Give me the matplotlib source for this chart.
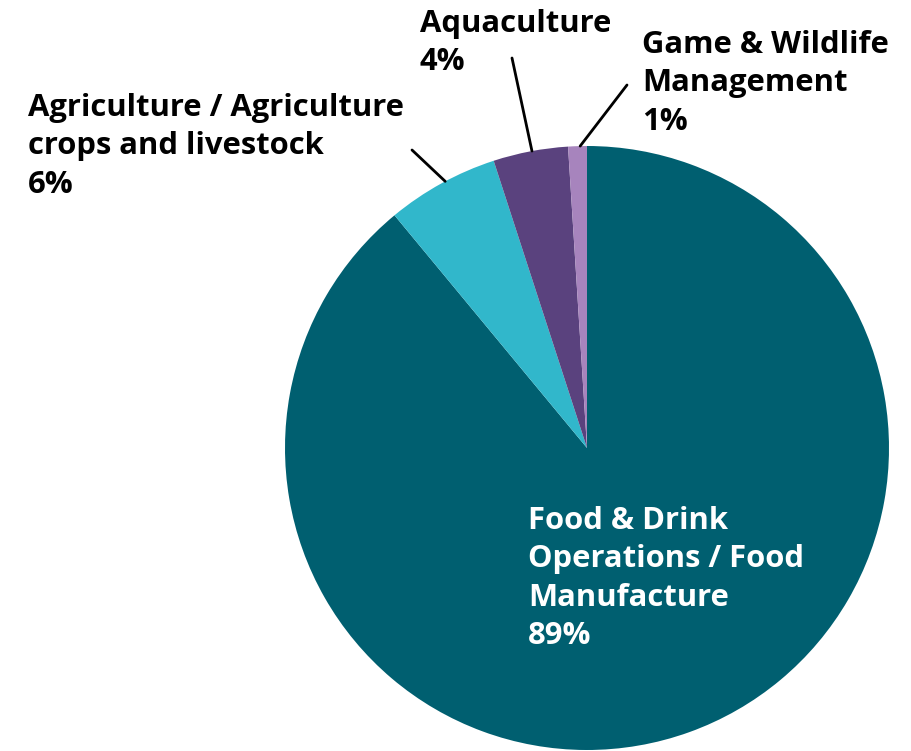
import numpy as np
import matplotlib.pyplot as plt

plt.rcParams['font.family'] = ['Open Sans', 'DejaVu Sans']

sectors = ['Food & Drink\nOperations / Food\nManufacture',
           'Agriculture / Agriculture\ncrops and livestock',
           'Aquaculture',
           'Game & Wildlife\nManagement']
shares = [89, 6, 4, 1]
colours = ['#005F70', '#31B7CB', '#5A427E', '#A784BD']

W, H = 911, 751
fig = plt.figure(figsize=(W / 100, H / 100), dpi=100)
# pie centre at (587, 448) px from top-left, radius 302 px
cx, cy, r = 587, 448, 302
ax = fig.add_axes([(cx - r) / W, (H - cy - r) / H, 2 * r / W, 2 * r / H])
ax.pie(shares, colors=colours, startangle=90, counterclock=False,
       radius=1.0, wedgeprops=dict(linewidth=0))
ax.set_xlim(-1, 1)
ax.set_ylim(-1, 1)
ax.set_aspect('equal')
ax.axis('off')

fs = 22.3
txt = dict(fontsize=fs, fontweight='bold', va='top', ha='left', linespacing=1.36)

# Food label sits inside the big wedge
fig.text(528 / W, 1 - 506 / H, sectors[0] + '\n%d%%' % shares[0], color='white', **txt)

# outside labels: text position (px, top-left origin), leader start, rim angle
outside = [(1, 28, 93, (412, 150), 118.0),
           (2, 420, 9, (512, 58), 100.5),
           (3, 642, 30, (627, 85), 91.3)]
for i, tx, ty, (lx, ly), ang in outside:
    fig.text(tx / W, 1 - ty / H, sectors[i] + '\n%d%%' % shares[i], color='black', **txt)
    a = np.deg2rad(ang)
    ax.annotate('', xy=(np.cos(a), np.sin(a)), xycoords='data',
                xytext=(lx, H - ly), textcoords='figure pixels',
                arrowprops=dict(arrowstyle='-', color='black', lw=2,
                                shrinkA=0, shrinkB=0))

fig.savefig('out.png', dpi=100)
